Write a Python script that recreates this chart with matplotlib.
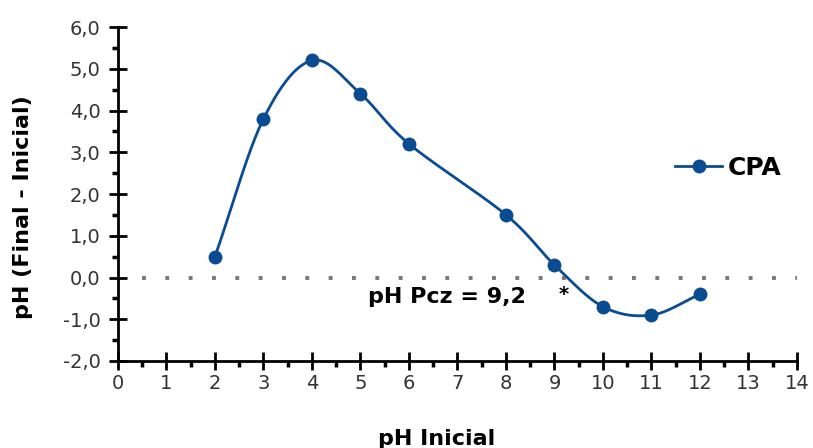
import numpy as np
import matplotlib
matplotlib.use("Agg")
import matplotlib.pyplot as plt
from matplotlib.ticker import MultipleLocator, FuncFormatter
from matplotlib.lines import Line2D

ph_inicial = [2, 3, 4, 5, 6, 8, 9, 10, 11, 12]
ph_delta = [0.5, 3.8, 5.2, 4.4, 3.2, 1.5, 0.3, -0.7, -0.9, -0.4]
series_name = "CPA"
annotation = "pH Pcz = 9,2"
pcz = 9.2

plt.rcParams['font.family'] = ['DejaVu Sans']

def catmull_rom(x, y, n=40):
    x = np.asarray(x, float); y = np.asarray(y, float)
    px = np.concatenate([[2*x[0]-x[1]], x, [2*x[-1]-x[-2]]])
    py = np.concatenate([[2*y[0]-y[1]], y, [2*y[-1]-y[-2]]])
    xs, ys = [], []
    t = np.linspace(0, 1, n)
    for i in range(1, len(px)-2):
        p0, p1, p2, p3 = [np.array([px[j], py[j]]) for j in (i-1, i, i+1, i+2)]
        c1 = p1 + (p2 - p0) / 6
        c2 = p2 - (p3 - p1) / 6
        for tt in t:
            b = ((1-tt)**3)*p1 + 3*((1-tt)**2)*tt*c1 + 3*(1-tt)*tt**2*c2 + tt**3*p2
            xs.append(b[0]); ys.append(b[1])
    return np.array(xs), np.array(ys)

color = '#0a4b92'
fig = plt.figure(figsize=(8.13, 4.48), dpi=100)
ax = fig.add_axes([0.1451, 0.1942, 0.8352, 0.7455])

sx, sy = catmull_rom(ph_inicial, ph_delta)
ax.plot(sx, sy, color=color, lw=2.0, zorder=3)
ax.plot(ph_inicial, ph_delta, 'o', color=color, ms=9, zorder=4)

ax.plot([0.5, 14], [0, 0], linestyle=(0, (1, 5)), color='#777777', lw=2.8, zorder=2)

ax.set_xlim(0, 14)
ax.set_ylim(-2, 6)
ax.xaxis.set_major_locator(MultipleLocator(1))
ax.xaxis.set_minor_locator(MultipleLocator(0.5))
ax.yaxis.set_major_locator(MultipleLocator(1))
ax.yaxis.set_minor_locator(MultipleLocator(0.5))
ax.yaxis.set_major_formatter(FuncFormatter(lambda v, p: f"{v:.1f}".replace('.', ',')))
for s in ['top', 'right']:
    ax.spines[s].set_visible(False)
for s in ['left', 'bottom']:
    ax.spines[s].set_linewidth(2)
ax.tick_params(which='major', direction='inout', length=13, width=2, labelsize=14,
               colors='#000000', labelcolor='#333333')
ax.tick_params(which='minor', direction='out', length=4, width=2.5)
ax.tick_params(axis='x', which='major', pad=3)
ax.tick_params(axis='y', which='major', pad=6)

ax.set_xlabel("pH Inicial", fontsize=16, fontweight='bold')
ax.xaxis.set_label_coords(0.470, -0.2036)
ax.set_ylabel("pH (Final - Inicial)", fontsize=16, fontweight='bold')
ax.yaxis.set_label_coords(-0.125, 0.461)

ax.text(6.78, -0.47, annotation, fontsize=16, fontweight='bold', ha='center', va='center')
ax.text(pcz, -0.40, "*", fontsize=14, fontweight='bold', ha='center', va='center')

handle = Line2D([], [], color=color, lw=2.0, marker='o', ms=9)
leg = ax.legend([handle], [series_name], loc='center left', bbox_to_anchor=(0.820, 0.578),
                frameon=False, prop={'weight': 'bold', 'size': 18}, handlelength=1.9,
                handletextpad=0.2, borderaxespad=0, borderpad=0)

fig.savefig("out.png", dpi=100)
